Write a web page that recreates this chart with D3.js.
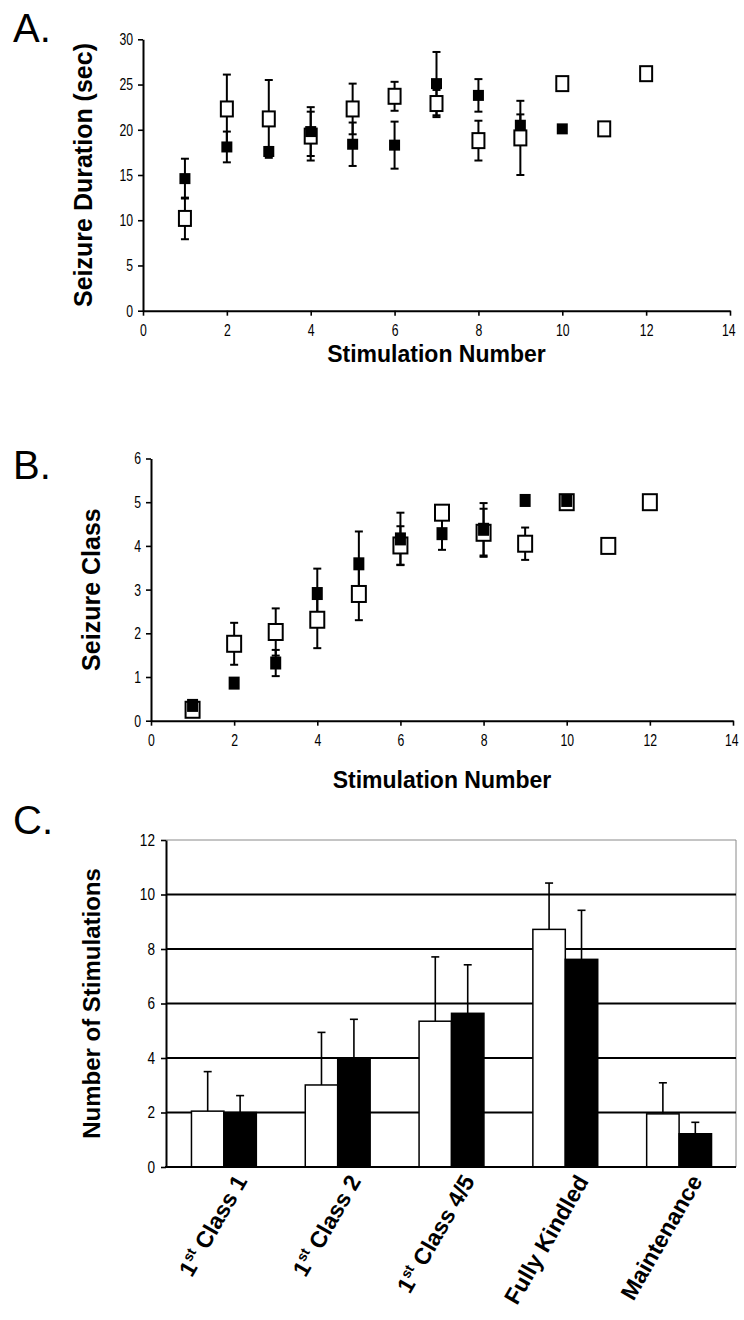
<!DOCTYPE html>
<html><head><meta charset="utf-8">
<script src="https://cdn.jsdelivr.net/npm/d3@7/dist/d3.min.js"></script>
<style>
body{margin:0;background:#fff;}
svg{display:block;font-family:"Liberation Sans",Arial,sans-serif;}
</style></head><body>
<svg id="fig" width="744" height="1320"></svg>
<script>
// ---------- DATA ----------
const stimNumbers = [1,2,3,4,5,6,7,8,9,10,11,12];
// Panel A: seizure duration (sec)
const durOpenMean   = [10.2,22.3,21.2,19.3,22.3,23.7,22.9,18.8,19.1,25.1,20.1,26.2];
const durOpenSD     = [2.3,3.8,4.3,2.7,2.8,1.6,1.5,2.2,4.1,0,0,0];
const durFilledMean = [14.6,18.1,17.6,19.8,18.4,18.3,25.1,23.8,20.5,20.1];
const durFilledSD   = [2.2,1.7,0.5,2.7,2.4,2.6,3.5,1.8,1.2,0];
// Panel B: seizure class
const clsOpenMean   = [0.25,1.76,2.03,2.31,2.90,4.01,4.76,4.30,4.05,5.0,4.0,5.0];
const clsOpenSD     = [0,0.48,0.54,0.65,0.6,0.44,0.1,0.55,0.37,0,0,0];
const clsFilledMean = [0.35,0.86,1.32,2.91,3.59,4.16,4.28,4.38,5.04,5.04];
const clsFilledSD   = [0.1,0.1,0.3,0.57,0.74,0.6,0.37,0.6,0.05,0];
// Panel C: number of stimulations
const milestones      = ["1st Class 1","1st Class 2","1st Class 4/5","Fully Kindled","Maintenance"];
const stimOpenMean    = [2.05,3.01,5.35,8.72,1.95];
const stimOpenErr     = [1.45,1.93,2.36,1.70,1.14];
const stimFilledMean  = [2.0,3.98,5.64,7.62,1.22];
const stimFilledErr   = [0.62,1.44,1.78,1.80,0.42];
// Ticks
const xStimTicks = [0,2,4,6,8,10,12,14];
const durTicks   = [0,5,10,15,20,25,30];
const clsTicks   = [0,1,2,3,4,5,6];
const cTicks     = [0,2,4,6,8,10,12];

// ---------- DRAWING ----------
const svg = d3.select("#fig");
const fmt = d3.format("d");

function condense(sel, f){
  sel.each(function(){
    const L = this.getComputedTextLength();
    if (L > 0){ this.setAttribute("textLength", L*f); this.setAttribute("lengthAdjust","spacingAndGlyphs"); }
  });
}

function styleAxis(g, fs, f){
  g.select(".domain").attr("stroke","#000").attr("stroke-width",2);
  g.selectAll(".tick line").attr("stroke","#000").attr("stroke-width",1.6);
  const t = g.selectAll(".tick text").attr("fill","#000").attr("font-size",fs)
    .attr("font-family","'Liberation Sans',Arial,sans-serif");
  condense(t, f);
  g.attr("font-family",null).attr("font-size",null);
}

function scatter(c){
  const g = svg.append("g");
  const x = d3.scaleLinear().domain([0,14]).range([c.x0,c.x1]);
  const y = d3.scaleLinear().domain([0,c.yMax]).range([c.y0,c.y1]);

  const gx = g.append("g").attr("transform",`translate(0,${c.y0})`)
    .call(d3.axisBottom(x).tickValues(xStimTicks).tickFormat(fmt).tickSize(5).tickSizeOuter(0).tickPadding(8));
  styleAxis(gx, 17, 0.72);
  // keep the last label inside the page edge
  gx.selectAll(".tick").filter(d=>d===14).select("text").attr("text-anchor","end").attr("x",5);
  const gy = g.append("g").attr("transform",`translate(${c.x0},0)`)
    .call(d3.axisLeft(y).tickValues(c.yTicks).tickFormat(fmt).tickSize(5).tickSizeOuter(0).tickPadding(5));
  styleAxis(gy, 17, 0.72);

  // titles
  g.append("text").attr("x",(c.x0+c.x1)/2).attr("y",c.xTitleY).attr("text-anchor","middle")
    .attr("font-weight","bold").attr("font-size",23).text("Stimulation Number");
  g.append("text").attr("transform",`translate(${c.yTitleX},${(c.y0+c.y1)/2}) rotate(-90)`)
    .attr("text-anchor","middle").attr("font-weight","bold").attr("font-size",25).text(c.yTitle);

  const series = [
    {m:c.openMean, s:c.openSD, open:true, w:c.ow, h:c.oh},
    {m:c.filledMean, s:c.filledSD, open:false, w:c.fw, h:c.fh}
  ];
  // error bars
  series.forEach(se=>{
    const pts = se.m.map((v,i)=>({x:stimNumbers[i], v, sd:se.s[i]})).filter(d=>d.sd>0);
    const eb = g.append("g").attr("stroke","#000").attr("stroke-width",2);
    eb.selectAll("line.v").data(pts).join("line")
      .attr("x1",d=>x(d.x)).attr("x2",d=>x(d.x))
      .attr("y1",d=>y(d.v-d.sd)).attr("y2",d=>y(d.v+d.sd));
    eb.selectAll("line.t").data(pts).join("line").attr("class","t")
      .attr("x1",d=>x(d.x)-4).attr("x2",d=>x(d.x)+4)
      .attr("y1",d=>y(d.v+d.sd)).attr("y2",d=>y(d.v+d.sd));
    eb.selectAll("line.b").data(pts).join("line").attr("class","b")
      .attr("x1",d=>x(d.x)-4).attr("x2",d=>x(d.x)+4)
      .attr("y1",d=>y(d.v-d.sd)).attr("y2",d=>y(d.v-d.sd));
  });
  // markers
  series.forEach(se=>{
    const pts = se.m.map((v,i)=>({x:stimNumbers[i], v}));
    g.append("g").selectAll("rect").data(pts).join("rect")
      .attr("x",d=>x(d.x)-se.w/2).attr("y",d=>y(d.v)-se.h/2)
      .attr("width",se.w).attr("height",se.h)
      .attr("fill",se.open?"#fff":"#000")
      .attr("stroke",se.open?"#000":"none").attr("stroke-width",2);
  });
}

// Panel letters
svg.append("text").attr("x",13).attr("y",42).attr("font-size",40).text("A.");
svg.append("text").attr("x",13).attr("y",479).attr("font-size",40).text("B.");
svg.append("text").attr("x",13).attr("y",834).attr("font-size",40).text("C.");

scatter({x0:143,x1:730,y0:310.7,y1:39.3,yMax:30,yTicks:durTicks,
  openMean:durOpenMean,openSD:durOpenSD,filledMean:durFilledMean,filledSD:durFilledSD,
  ow:12,oh:15,fw:11,fh:11,yTitle:"Seizure Duration (sec)",yTitleX:92,xTitleY:362});

scatter({x0:151,x1:733,y0:720.7,y1:458.5,yMax:6,yTicks:clsTicks,
  openMean:clsOpenMean,openSD:clsOpenSD,filledMean:clsFilledMean,filledSD:clsFilledSD,
  ow:14,oh:16,fw:11,fh:13,yTitle:"Seizure Class",yTitleX:100,xTitleY:788});

// Panel C
(function(){
  const g = svg.append("g");
  const L=166, R=736, Y0=1167, Y1=840;
  const x = d3.scaleBand().domain(milestones).range([L+1,R]).paddingInner(0.43).paddingOuter(0.215);
  const xs = d3.scaleBand().domain(["open","filled"]).range([0,x.bandwidth()]);
  const y = d3.scaleLinear().domain([0,12]).range([Y0,Y1]);

  g.append("line").attr("x1",L).attr("x2",R).attr("y1",y(12)).attr("y2",y(12)).attr("stroke","#8a8a8a").attr("stroke-width",1);
  g.append("line").attr("x1",R).attr("x2",R).attr("y1",y(12)).attr("y2",Y0).attr("stroke","#8a8a8a").attr("stroke-width",1);
  g.append("g").selectAll("line").data(cTicks.filter(t=>t>0&&t<12)).join("line")
    .attr("x1",L).attr("x2",R).attr("y1",d=>y(d)).attr("y2",d=>y(d))
    .attr("stroke","#000").attr("stroke-width",2);

  const rows = milestones.map((m,i)=>[
    {m, k:"open", v:stimOpenMean[i], e:stimOpenErr[i]},
    {m, k:"filled", v:stimFilledMean[i], e:stimFilledErr[i]}
  ]).flat();

  g.append("g").selectAll("rect").data(rows).join("rect")
    .attr("x",d=>x(d.m)+xs(d.k)).attr("width",xs.bandwidth())
    .attr("y",d=>y(d.v)).attr("height",d=>Y0-y(d.v))
    .attr("fill",d=>d.k==="open"?"#fff":"#000")
    .attr("stroke","#000").attr("stroke-width",1.5);

  const eb = g.append("g").attr("stroke","#000").attr("stroke-width",1.6);
  const cx = d=>x(d.m)+xs(d.k)+xs.bandwidth()/2;
  eb.selectAll("line.v").data(rows).join("line")
    .attr("x1",cx).attr("x2",cx).attr("y1",d=>y(d.v)).attr("y2",d=>y(d.v+d.e));
  eb.selectAll("line.c").data(rows).join("line").attr("class","c")
    .attr("x1",d=>cx(d)-4).attr("x2",d=>cx(d)+4).attr("y1",d=>y(d.v+d.e)).attr("y2",d=>y(d.v+d.e));

  const gy = g.append("g").attr("transform",`translate(${L},0)`)
    .call(d3.axisLeft(y).tickValues(cTicks).tickFormat(fmt).tickSize(5).tickSizeOuter(0).tickPadding(6));
  styleAxis(gy, 16, 0.85);
  g.append("line").attr("x1",L-1).attr("x2",R).attr("y1",Y0).attr("y2",Y0).attr("stroke","#000").attr("stroke-width",2);

  milestones.forEach(m=>{
    const t = g.append("text")
      .attr("transform",`translate(${x(m)+x.bandwidth()/2+24},${Y0+14}) rotate(-60)`)
      .attr("text-anchor","end").attr("font-weight","bold").attr("font-size",23);
    const mm = m.match(/^(\d+)(st|nd|rd|th)\s(.*)$/);
    if (mm){
      t.append("tspan").text(mm[1]);
      t.append("tspan").attr("font-size",14).attr("dy",-9).text(mm[2]);
      t.append("tspan").attr("dy",9).text(" "+mm[3]);
    } else t.text(m);
  });

  g.append("text").attr("transform",`translate(100,${(Y0+Y1)/2}) rotate(-90)`)
    .attr("text-anchor","middle").attr("font-weight","bold").attr("font-size",24).text("Number of Stimulations");
})();
</script>
</body></html>
